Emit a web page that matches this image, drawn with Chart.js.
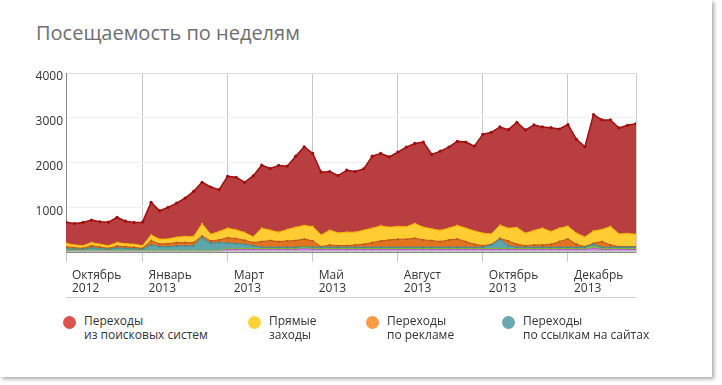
<!DOCTYPE html>
<html>
<head>
<meta charset="utf-8">
<script src="https://cdn.jsdelivr.net/npm/chart.js@4"></script>
<style>
body{margin:0;background:#fff;font-family:"Open Sans",Arial,sans-serif;}
#card{position:absolute;left:0;top:0;width:712px;height:377px;background:#fff;box-shadow:2px 2px 4px rgba(0,0,0,0.35);}
#titulo{position:absolute;left:36px;top:19px;font-size:20px;line-height:27px;color:#6e6e6e;}
#dibujo{position:absolute;left:0;top:60px;width:660px;height:240px;}
#linea{position:absolute;left:66px;top:297px;width:570px;height:1px;background:#cfcfcf;}
.ley{position:absolute;top:314px;font-size:12px;line-height:14px;color:#333;}
.ley span{position:absolute;left:-21px;top:2px;width:13px;height:13px;border-radius:50%;}
</style>
</head>
<body>
<div id="card">
  <div id="titulo">Посещаемость по неделям</div>
  <div id="dibujo"><canvas id="myChart"></canvas></div>
  <div id="linea"></div>
  <div id="leyenda"></div>
</div>
<script>
// indices de las semanas y etiquetas del eje x
var tickIdx = [0, 9, 19, 29, 39, 49, 59];
var tickMes = ['Октябрь', 'Январь', 'Март', 'Май', 'Август', 'Октябрь', 'Декабрь'];
var tickAno = ['2012', '2013', '2013', '2013', '2013', '2013', '2013'];
var yTicks = [0, 1000, 2000, 3000, 4000];

// valores por semana (68 semanas), de abajo hacia arriba en la pila
var otros = [15,15,15,15,15,15,15,15,15,15, 15,15,15,15,15,15,15,15,15,25,
             25,25,25,25,25,25,25,25,25,25, 25,25,25,25,25,25,25,25,25,25,
             25,25,25,25,25,25,25,25,25,25, 25,25,25,25,25,25,25,25,25,25,
             25,25,25,25,25,25,25,25];
var morado = [0,0,0,0,0,0,0,0,0,0, 0,0,0,0,0,0,0,0,0,30,
              30,30,30,30,30,30,30,30,55,30, 30,30,30,30,30,30,30,30,30,30,
              30,30,30,30,30,30,30,30,30,30, 30,30,30,30,30,30,30,30,30,30,
              30,30,60,30,30,30,30,30];
var verde = [20,20,20,20,20,20,20,20,20,20, 20,20,20,20,20,20,20,20,20,20,
             20,20,20,20,20,20,20,20,20,20, 20,20,20,20,20,20,20,20,20,20,
             20,20,20,20,20,20,20,20,20,20, 20,20,20,20,20,20,20,20,20,20,
             20,20,35,20,20,20,20,20];
var enlaces = [35,30,25,60,40,25,55,45,35,25, 125,85,80,100,100,105,287,160,175,125,
               115,95,65,30,30,30,30,30,20,30, 30,30,30,30,30,30,30,30,30,30,
               30,30,30,30,30,30,30,30,30,30, 82,210,67,30,30,30,30,30,30,30,
               30,30,50,30,30,30,30,30];
var publicidad = [50,32,22,47,37,22,45,40,35,22, 95,60,72,75,75,70,38,52,60,120,
                  110,90,70,127,150,127,142,150,172,142, 15,52,37,37,52,67,105,142,165,180,
                  180,202,165,150,127,165,187,127,67,37, 13,20,105,67,37,52,52,67,127,187,
                  67,15,25,127,52,15,15,15];
var directos = [75,60,60,68,60,60,75,67,67,60, 127,105,105,120,135,135,269,150,187,212,
                194,174,130,300,232,210,255,299,300,322, 262,330,285,300,285,315,322,337,284,284,
                277,330,284,262,251,262,300,300,300,277, 234,294,285,375,277,322,375,285,300,285,
                247,217,277,270,412,284,292,277];
var buscadores = [472,480,518,502,502,525,562,502,488,525, 727,636,704,763,861,1011,929,1056,936,1161,
                  1176,1124,1360,1408,1378,1493,1416,1588,1760,1633, 1401,1311,1281,1386,1356,1371,1610,1618,1573,1663,
                  1783,1790,1903,1663,1772,1813,1880,1925,1895,2210, 2270,2195,2202,2352,2308,2360,2262,2322,2217,2270,
                  2098,2015,2599,2449,2382,2368,2419,2472];

var leyNombres = [['Переходы', 'из поисковых систем'], ['Прямые', 'заходы'], ['Переходы', 'по рекламе'], ['Переходы', 'по ссылкам на сайтах']];
var leyColores = ['#d9534f', '#ffd23a', '#ff9a44', '#6aa8ad'];
var leyX = [84, 269, 387, 523];

function puntos(arr){
    var r = [];
    for (var i = 0; i < arr.length; i++) r.push({x: i, y: arr[i]});
    return r;
}

function serie(arr, fondo, borde, radio, grosor, primero){
    return {
        data: puntos(arr),
        backgroundColor: fondo,
        borderColor: borde,
        borderWidth: grosor,
        pointRadius: radio,
        pointBackgroundColor: borde,
        pointBorderWidth: 0,
        fill: primero ? 'origin' : '-1',
        tension: 0
    };
}

function leyenda(){
    var html = '';
    for (var i = 0; i < leyNombres.length; i++){
        html += '<div class="ley" style="left:' + leyX[i] + 'px"><span style="background:' + leyColores[i] + '"></span>' +
                leyNombres[i][0] + '<br>' + leyNombres[i][1] + '</div>';
    }
    document.getElementById('leyenda').innerHTML = html;
}

function barra(){
    var ctx = document.getElementById('myChart').getContext('2d');
    var chart = new Chart(ctx, {
        type: 'line',
        data: {
            datasets: [
                serie(otros, '#d8d2dc', '#bdb4c2', 1, 1, true),
                serie(morado, '#d08be0', '#b65bcc', 1, 1, false),
                serie(verde, '#94d334', '#70c21e', 1, 1, false),
                serie(enlaces, '#5fa6aa', '#3d8a90', 1, 1, false),
                serie(publicidad, '#e2731f', '#b8541a', 1, 1, false),
                serie(directos, '#ffcc33', '#f5b300', 1, 1, false),
                serie(buscadores, '#b93e40', '#a00d0d', 1.6, 1.5, false)
            ]
        },
        options: {
            responsive: true,
            maintainAspectRatio: false,
            animation: false,
            layout: {padding: {left: 20, right: 24, top: 13, bottom: 2}},
            plugins: {legend: {display: false}, tooltip: {enabled: false}},
            scales: {
                x: {
                    type: 'linear',
                    min: 0,
                    max: buscadores.length - 1,
                    afterBuildTicks: function(axis){
                        axis.ticks = tickIdx.map(function(v){ return {value: v}; });
                    },
                    afterFit: function(axis){ axis.height = 46; },
                    grid: {color: '#c8c8c8', tickLength: 10, drawTicks: true},
                    border: {color: '#8a8a8a'},
                    ticks: {
                        autoSkip: false,
                        maxRotation: 0,
                        align: 'start',
                        labelOffset: 6,
                        padding: 7,
                        color: '#333',
                        font: {family: 'Open Sans', size: 12, lineHeight: 1.1},
                        callback: function(v){
                            var k = tickIdx.indexOf(v);
                            return k < 0 ? '' : [tickMes[k], tickAno[k]];
                        }
                    }
                },
                y: {
                    stacked: true,
                    min: 0,
                    max: 4000,
                    afterBuildTicks: function(axis){
                        axis.ticks = yTicks.map(function(v){ return {value: v}; });
                    },
                    afterFit: function(axis){ axis.width = 46; },
                    grid: {
                        drawTicks: false,
                        color: function(c){
                            if (c.tick.value === 0) return 'rgba(0,0,0,0)';
                            return c.tick.value === 4000 ? '#dcdcdc' : '#f0f0f0';
                        }
                    },
                    border: {color: '#8a8a8a'},
                    ticks: {
                        padding: 3,
                        labelOffset: 4,
                        color: '#333',
                        font: {family: 'Open Sans', size: 12},
                        callback: function(v){ return v === 0 ? '' : v; }
                    }
                },
                y2: {
                    position: 'right',
                    min: 0,
                    max: 4000,
                    afterFit: function(axis){ axis.width = 0; },
                    grid: {drawOnChartArea: false, drawTicks: false},
                    border: {color: '#cfcfcf'},
                    ticks: {display: false}
                }
            }
        }
    });
}

leyenda();
barra();
</script>
</body>
</html>
